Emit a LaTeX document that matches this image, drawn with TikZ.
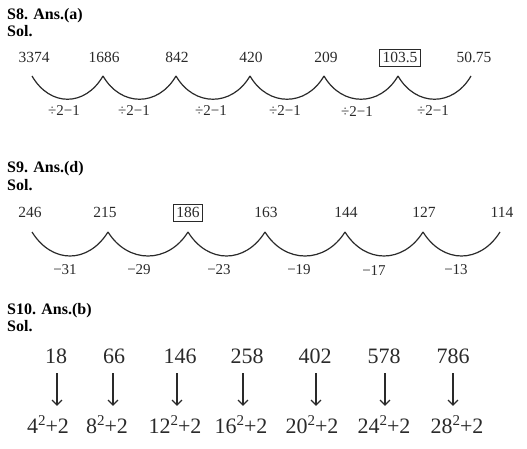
\documentclass[tikz,border=0pt]{standalone}
\usepackage{fontspec}
\setmainfont{Liberation Serif}
\usepackage{tikz}
\usetikzlibrary{arrows.meta}

\definecolor{ink}{HTML}{2A2A2A}
\newcommand{\sqr}[1]{\raisebox{0.36em}{\fontsize{15}{15}\selectfont #1}}
\tikzset{
  head/.style={anchor=base west, inner sep=0pt, text=black, font=\bfseries\fontsize{16}{16}\selectfont},
  num/.style={anchor=base, inner sep=0pt, text=ink, font=\fontsize{15.5}{16}\selectfont},
  boxed/.style={num, draw=ink, line width=0.9pt, inner xsep=3pt, inner ysep=3pt},
  step8/.style={anchor=base, inner sep=0pt, text=ink, font=\fontsize{15}{15}\selectfont},
  step9/.style={anchor=base, inner sep=0pt, text=ink, font=\fontsize{15}{15}\selectfont},
  big/.style={anchor=base, inner sep=0pt, text=ink, font=\fontsize{22}{22}\selectfont},
  swing/.style={draw=ink, line width=1.2pt},
  down/.style={draw=ink, line width=1.3pt, -{Straight Barb[length=5pt,width=10pt,line width=1.3pt]}}
}

\begin{document}
\begin{tikzpicture}[x=1pt,y=-1pt]
    \useasboundingbox (0,0) rectangle (527,449);

    % S8
    \node[head] (h8) at (7,20) {S8. Ans.(a)};
    \node[head] (s8) at (7,37) {Sol.};

    \node[num] (a1) at (34,63) {3374};
    \node[num] (a2) at (104,63) {1686};
    \node[num] (a3) at (177,63) {842};
    \node[num] (a4) at (251,63) {420};
    \node[num] (a5) at (326,63) {209};
    \node[boxed] (a6) at (400,63) {103.5};
    \node[num] (a7) at (474,63) {50.75};

    % arcs between the terms
    \draw[swing] ([xshift=-2pt,yshift=-13pt]a1.base) .. controls +(18,31) and +(-18,31) .. ([xshift=-1pt,yshift=-13pt]a2.base);
    \draw[swing] ([xshift=-1pt,yshift=-13pt]a2.base) .. controls +(18,31) and +(-18,31) .. ([xshift=-1pt,yshift=-13pt]a3.base);
    \draw[swing] ([xshift=-1pt,yshift=-13pt]a3.base) .. controls +(18,31) and +(-18,31) .. ([xshift=-1pt,yshift=-13pt]a4.base);
    \draw[swing] ([xshift=-1pt,yshift=-13pt]a4.base) .. controls +(18,31) and +(-18,31) .. ([xshift=-2pt,yshift=-13pt]a5.base);
    \draw[swing] ([xshift=-2pt,yshift=-13pt]a5.base) .. controls +(18,31) and +(-18,31) .. ([xshift=-2pt,yshift=-13pt]a6.base);
    \draw[swing] ([xshift=-2pt,yshift=-13pt]a6.base) .. controls +(18,31) and +(-18,31) .. ([xshift=-3pt,yshift=-13pt]a7.base);

    % operations
    \node[step8] (o1) at (64,116) {÷2−1};
    \node[step8] (o2) at (134,116) {÷2−1};
    \node[step8] (o3) at (211,116) {÷2−1};
    \node[step8] (o4) at (285,116) {÷2−1};
    \node[step8] (o5) at (357,117) {÷2−1};
    \node[step8] (o6) at (433,116) {÷2−1};

    % S9
    \node[head] (h9) at (7,173) {S9. Ans.(d)};
    \node[head] (s9) at (7,191) {Sol.};

    \node[num] (b1) at (30,218) {246};
    \node[num] (b2) at (105,218) {215};
    \node[boxed] (b3) at (188,218) {186};
    \node[num] (b4) at (266,218) {163};
    \node[num] (b5) at (346,218) {144};
    \node[num] (b6) at (424,218) {127};
    \node[num] (b7) at (502,218) {114};

    \draw[swing] ([xshift=2pt,yshift=-14pt]b1.base) .. controls +(20,32) and +(-20,32) .. ([xshift=3pt,yshift=-14pt]b2.base);
    \draw[swing] ([xshift=3pt,yshift=-14pt]b2.base) .. controls +(20,32) and +(-20,32) .. ([yshift=-14pt]b3.base);
    \draw[swing] ([yshift=-14pt]b3.base) .. controls +(20,32) and +(-20,32) .. ([xshift=-1pt,yshift=-14pt]b4.base);
    \draw[swing] ([xshift=-1pt,yshift=-14pt]b4.base) .. controls +(20,32) and +(-20,32) .. ([xshift=-1pt,yshift=-14pt]b5.base);
    \draw[swing] ([xshift=-1pt,yshift=-14pt]b5.base) .. controls +(20,32) and +(-20,32) .. ([xshift=-1pt,yshift=-14pt]b6.base);
    \draw[swing] ([xshift=-1pt,yshift=-14pt]b6.base) .. controls +(20,32) and +(-20,32) .. ([xshift=-2pt,yshift=-14pt]b7.base);

    % differences
    \node[step9] (d1) at (65,274) {−31};
    \node[step9] (d2) at (139,274) {−29};
    \node[step9] (d3) at (219,274) {−23};
    \node[step9] (d4) at (299,274) {−19};
    \node[step9] (d5) at (374,275) {−17};
    \node[step9] (d6) at (456,274) {−13};

    % S10
    \node[head] (h10) at (7,314) {S10. Ans.(b)};
    \node[head] (s10) at (7,331) {Sol.};

    \node[big] (c1) at (56,363) {18};
    \node[big] (c2) at (114,363) {66};
    \node[big] (c3) at (180,363) {146};
    \node[big] (c4) at (247,363) {258};
    \node[big] (c5) at (315,363) {402};
    \node[big] (c6) at (384,363) {578};
    \node[big] (c7) at (453,363) {786};

    \node[big] (e1) at (48,433) {4\sqr{2}+2};
    \node[big] (e2) at (107,433) {8\sqr{2}+2};
    \node[big] (e3) at (175,433) {12\sqr{2}+2};
    \node[big] (e4) at (241,433) {16\sqr{2}+2};
    \node[big] (e5) at (312,433) {20\sqr{2}+2};
    \node[big] (e6) at (384,433) {24\sqr{2}+2};
    \node[big] (e7) at (457,433) {28\sqr{2}+2};

    % arrows down
    \draw[down] ([xshift=1pt,yshift=-10pt]c1.base) -- ([xshift=1pt,yshift=9pt]c1.base |- e1.north);
    \draw[down] ([xshift=-1pt,yshift=-10pt]c2.base) -- ([xshift=-1pt,yshift=9pt]c2.base |- e2.north);
    \draw[down] ([xshift=-3pt,yshift=-10pt]c3.base) -- ([xshift=-3pt,yshift=9pt]c3.base |- e3.north);
    \draw[down] ([xshift=-4pt,yshift=-10pt]c4.base) -- ([xshift=-4pt,yshift=9pt]c4.base |- e4.north);
    \draw[down] ([xshift=1pt,yshift=-10pt]c5.base) -- ([xshift=1pt,yshift=9pt]c5.base |- e5.north);
    \draw[down] ([xshift=1pt,yshift=-10pt]c6.base) -- ([xshift=1pt,yshift=9pt]c6.base |- e6.north);
    \draw[down] ([yshift=-10pt]c7.base) -- ([yshift=9pt]c7.base |- e7.north);
\end{tikzpicture}
\end{document}
